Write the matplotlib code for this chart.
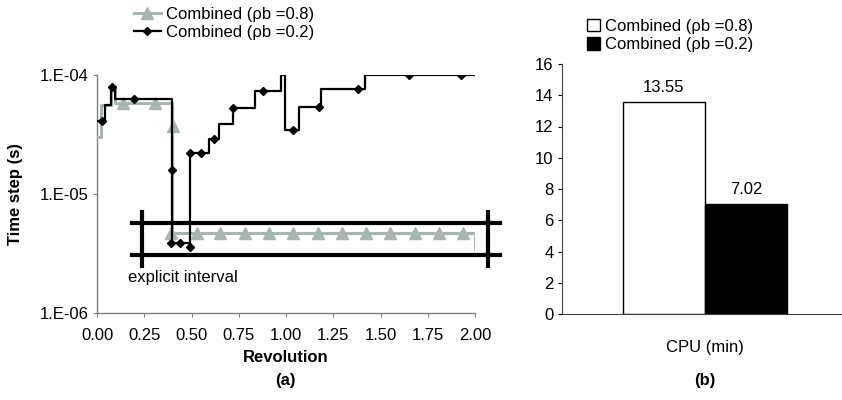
import numpy as np
import matplotlib
matplotlib.use('Agg')
from matplotlib import pyplot as plt
from matplotlib.patches import Patch
from matplotlib.lines import Line2D

plt.rcParams['font.family'] = ['Liberation Sans', 'DejaVu Sans']

# time step history, step-wise (start revolution, value)
hi_x = [0.0, 0.021, 0.074, 0.095, 0.395, 2.0]
hi_y = [3.0e-5, 5.6e-5, 7.9e-5, 5.85e-5, 4.7e-6, 3.5e-6]
hi_mx = [0.14, 0.307, 0.40, 0.392, 0.527, 0.651, 0.783, 0.912, 1.039,
         1.167, 1.294, 1.421, 1.55, 1.683, 1.811, 1.938]
hi_my = [5.85e-5, 5.85e-5, 3.7e-5] + [4.7e-6] * 13

lo_x = [0.0, 0.04, 0.074, 0.095, 0.397, 0.490, 0.494, 0.594, 0.645, 0.721,
        0.836, 0.974, 0.995, 1.07, 1.185, 1.418, 2.0]
lo_y = [4.1e-5, 5.6e-5, 7.9e-5, 6.3e-5, 3.9e-6, 3.6e-6, 2.2e-5, 2.88e-5,
        3.9e-5, 5.3e-5, 7.4e-5, 1.0e-4, 3.45e-5, 5.35e-5, 7.7e-5, 1.0e-4, 1.0e-4]
lo_mx = [0.028, 0.081, 0.197, 0.398, 0.392, 0.439, 0.492, 0.492, 0.55, 0.62,
         0.72, 0.877, 1.039, 1.175, 1.383, 1.651, 1.928]
lo_my = [4.1e-5, 7.9e-5, 6.3e-5, 1.6e-5, 3.9e-6, 3.9e-6, 3.6e-6, 2.2e-5,
         2.2e-5, 2.88e-5, 5.3e-5, 7.4e-5, 3.45e-5, 5.35e-5, 7.7e-5, 1.0e-4, 1.0e-4]

# explicit interval frame
box_x = [0.183, 2.13]
box_y = [3.07e-6, 5.74e-6]
bar_x = [0.236, 2.07]
bar_y = [2.48e-6, 7.1e-6]

labels = ['Combined (\u03c1b =0.8)', 'Combined (\u03c1b =0.2)']
cpu = [13.55, 7.02]

GRAY = '#a9b5b3'
FS = 12

fig = plt.figure(figsize=(8.42, 4.0), dpi=100)

# ---- (a) time step ----
ax = fig.add_axes([97 / 842, 1 - 313 / 400, 378 / 842, 238 / 400])
ax.step(hi_x, hi_y, where='post', color=GRAY, lw=2.2, zorder=3)
ax.plot(hi_mx, hi_my, ls='none', marker='^', ms=8, color=GRAY, zorder=3)
ax.step(lo_x, lo_y, where='post', color='black', lw=1.6, zorder=4)
ax.plot(lo_mx, lo_my, ls='none', marker='D', ms=4.5, color='black', zorder=4)

for yy in box_y:
    ax.plot(box_x, [yy, yy], color='black', lw=3, clip_on=False, zorder=5)
for xx in bar_x:
    ax.plot([xx, xx], bar_y, color='black', lw=3, clip_on=False, zorder=5)
ax.text(0.165, 1.97e-6, 'explicit interval', fontsize=FS, va='center', ha='left')

ax.set_yscale('log')
ax.set_xlim(0, 2.0)
ax.set_ylim(1e-6, 1e-4)
ax.set_yticks([1e-6, 1e-5, 1e-4])
ax.set_yticklabels(['1.E-06', '1.E-05', '1.E-04'])
ax.yaxis.set_minor_locator(matplotlib.ticker.NullLocator())
ax.set_xticks(np.arange(0, 2.01, 0.25))
ax.set_xticklabels(['%.2f' % v for v in np.arange(0, 2.01, 0.25)])
for s in ['top', 'right']:
    ax.spines[s].set_visible(False)
for s in ['left', 'bottom']:
    ax.spines[s].set_color('#808080')
    ax.spines[s].set_linewidth(1.0)
ax.tick_params(axis='both', direction='out', length=3, color='#808080', labelsize=FS)
ax.tick_params(axis='x', pad=8)
ax.tick_params(axis='y', pad=3)
ax.set_xlabel('Revolution', fontsize=FS, fontweight='bold')
ax.xaxis.set_label_coords(0.5, -(357 - 313) / 238, transform=ax.transAxes)
ax.xaxis.label.set_va('center')
ax.set_ylabel('Time step (s)', fontsize=FS, fontweight='bold')
ax.yaxis.set_label_coords(-(97 - 16) / 378, 0.5)
ax.yaxis.label.set_va('center')

h_a = [Line2D([], [], color=GRAY, lw=2.2, marker='^', ms=8),
       Line2D([], [], color='black', lw=1.6, marker='D', ms=4.5)]
fig.legend(h_a, labels, loc='upper left', bbox_to_anchor=(134 / 842, 1 - 7 / 400),
           frameon=False, fontsize=FS, borderpad=0, borderaxespad=0,
           handlelength=1.6, handletextpad=0.3, labelspacing=0.2)
fig.text(285 / 842, 1 - 380 / 400, '(a)', fontsize=FS, fontweight='bold',
         ha='center', va='center')

# ---- (b) CPU time ----
bx = fig.add_axes([562 / 842, 1 - 314 / 400, 286 / 842, 250 / 400])
w = 0.287
bars = bx.bar([-w / 2, w / 2], cpu, width=w, color=['white', 'black'],
              edgecolor='black', linewidth=1.0)
for b, v in zip(bars, cpu):
    bx.text(b.get_x() + b.get_width() / 2, v + 0.45, '%.2f' % v, ha='center',
            va='bottom', fontsize=FS)
bx.set_xlim(-0.5, 0.5)
bx.set_ylim(0, 16)
bx.set_yticks(range(0, 17, 2))
bx.set_xticks([0])
bx.set_xticklabels(['CPU (min)'])
for s in ['top', 'right']:
    bx.spines[s].set_visible(False)
for s in ['left', 'bottom']:
    bx.spines[s].set_color('#404040')
bx.tick_params(axis='y', direction='out', length=3, labelsize=FS, pad=3)
bx.tick_params(axis='x', length=0, labelsize=FS, pad=19)

h_b = [Patch(facecolor='white', edgecolor='black'),
       Patch(facecolor='black', edgecolor='black')]
fig.legend(h_b, labels, loc='upper left', bbox_to_anchor=(587 / 842, 1 - 19 / 400),
           frameon=False, fontsize=FS, borderpad=0, borderaxespad=0,
           handlelength=0.75, handleheight=0.75, handletextpad=0.35, labelspacing=0.2)
fig.text(705 / 842, 1 - 380 / 400, '(b)', fontsize=FS, fontweight='bold',
         ha='center', va='center')

fig.savefig('out.png', dpi=100)
